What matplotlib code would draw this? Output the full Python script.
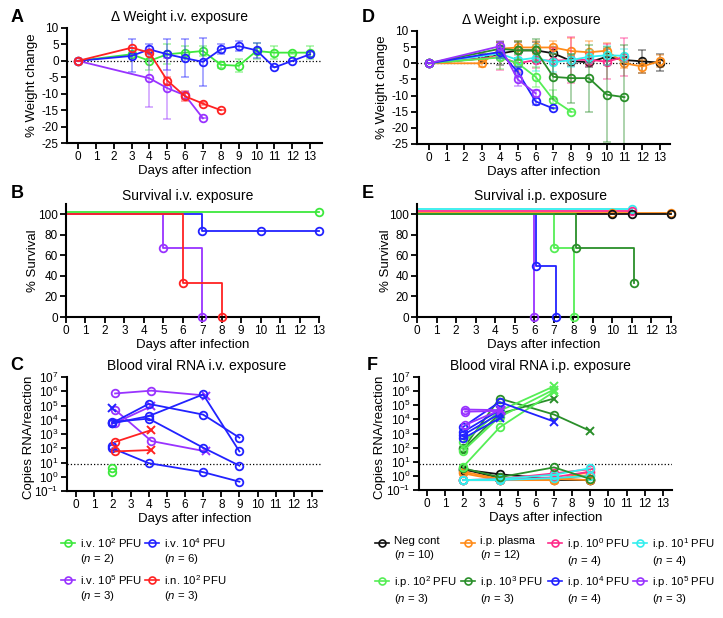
import numpy as np
import matplotlib
matplotlib.use("Agg")
import matplotlib.pyplot as plt
from matplotlib.lines import Line2D
from matplotlib.ticker import LogLocator, FixedLocator

plt.rcParams["font.family"] = ["Liberation Sans", "DejaVu Sans"]
plt.rcParams["mathtext.fontset"] = "custom"
plt.rcParams["mathtext.rm"] = "Liberation Sans"
plt.rcParams["mathtext.it"] = "Liberation Sans:italic"
plt.rcParams["axes.unicode_minus"] = False

# ---------------- colours ----------------
C_GREEN = "#3de83d"
C_BLUE = "#2222ff"
C_PURPLE = "#9933ff"
C_RED = "#ff2222"
C_BLACK = "#111111"
C_ORANGE = "#ff8c1a"
C_PINK = "#ff2a8a"
C_CYAN = "#33eeee"
C_LGREEN = "#55ee55"
C_DGREEN = "#2a8f2a"

# ---------------- A: weight i.v. ----------------
iv_green_days = [0, 3, 4, 5, 6, 7, 8, 9, 10, 11, 12, 13]
iv_green_mean = [0, 2, 0, 2, 2.5, 3, -1.2, -1.5, 3, 2.5, 2.5, 2.5]
iv_green_err = [0, 0.5, 2.8, 3, 2, 1.5, 1, 2, 2.5, 2, 0.3, 2]

iv_blue_days = [0, 3, 4, 5, 6, 7, 8, 9, 10, 11, 12, 13]
iv_blue_mean = [0, 1.5, 3.5, 2, 0.8, -0.3, 3.5, 4.5, 3.2, -2, 0, 2]
iv_blue_err = [0, 5, 1.5, 4.7, 5.8, 7.4, 1.5, 1.5, 2.3, 0, 0, 0.7]

iv_purple_days = [0, 4, 5, 6, 7]
iv_purple_mean = [0, -5.3, -8.3, -10.5, -17.5]
iv_purple_err = [0, 8.8, 9.3, 1, 0]

in_red_days = [0, 3, 4, 5, 6, 7, 8]
in_red_mean = [0, 4, 2.5, -6, -10.8, -13, -15]
in_red_err = [0, 0, 0.5, 1, 1.5, 0.5, 0]

# ---------------- D: weight i.p. ----------------
ip_black_days = [0, 3, 4, 5, 6, 7, 8, 9, 10, 11, 12, 13]
ip_black_mean = [0, 1.5, 3, 4, 4, 3.1, 0.7, 0.3, 2, 1, 0.6, 0.2]
ip_black_err = [0, 1.5, 3.5, 2.5, 2.5, 2, 1.5, 1.5, 2.5, 1, 3.5, 2.7]

ip_orange_days = [0, 3, 4, 5, 6, 7, 8, 9, 10, 11, 12, 13]
ip_orange_mean = [0, 0, 4.5, 4.9, 4.9, 4.9, 3.8, 3.4, 3.9, 0, -1, 0.7]
ip_orange_err = [0, 1, 2, 2, 2, 2, 4, 3.5, 2.5, 1.5, 2, 2]

ip_pink_days = [0, 4, 5, 6, 7, 8, 9, 10, 11]
ip_pink_mean = [0, 2, 0, 1, 0.8, 1, 1.1, 0.5, 2]
ip_pink_err = [0, 4, 2.5, 2.5, 4, 7, 2, 5.5, 5.8]

ip_cyan_days = [0, 4, 5, 6, 7, 8, 9, 10, 11]
ip_cyan_mean = [0, 3, 1, 1.7, 0.3, 1, 2, 2.5, 2.3]
ip_cyan_err = [0, 2, 2, 4, 3, 2, 2, 3, 2]

ip_lgreen_days = [0, 4, 5, 6, 7, 8]
ip_lgreen_mean = [0, 1.8, 0, -4.2, -11.3, -15]
ip_lgreen_err = [0, 3.5, 3, 3, 3, 0]

ip_dgreen_days = [0, 4, 5, 6, 7, 8, 9, 10, 11]
ip_dgreen_mean = [0, 4.5, 4, 4, -4.2, -4.6, -4.6, -9.7, -10.5]
ip_dgreen_err = [0, 2, 3, 3.5, 7, 7.6, 10.4, 14.8, 16.3]

ip_blue_days = [0, 4, 5, 6, 7]
ip_blue_mean = [0, 3.5, -2.7, -11.8, -14]
ip_blue_err = [0, 2, 1.5, 1, 0]

ip_purple_days = [0, 4, 5, 6]
ip_purple_mean = [0, 5.3, -5, -9.3]
ip_purple_err = [0, 1.5, 2, 1]

# ---------------- B / E: survival (step times, % alive, marker days) ----------------
surv_iv = [
    (C_GREEN, [0, 13], [100, 100], [13]),
    (C_BLUE, [0, 7, 13], [100, 83.3, 83.3], [7, 10, 13]),
    (C_PURPLE, [0, 5, 7], [100, 66.7, 0], [5, 7]),
    (C_RED, [0, 6, 8], [100, 33.3, 0], [6, 8]),
]
surv_ip = [
    (C_CYAN, [0, 11], [100, 100], [11]),
    (C_PINK, [0, 11], [100, 100], [11]),
    (C_ORANGE, [0, 13], [100, 100], [10, 13]),
    (C_BLACK, [0, 13], [100, 100], [10, 11, 13]),
    (C_PURPLE, [0, 6], [100, 0], [6]),
    (C_BLUE, [0, 6, 7], [100, 50, 0], [6, 7]),
    (C_LGREEN, [0, 7, 8], [100, 66.7, 0], [7, 8]),
    (C_DGREEN, [0, 8, 11], [100, 66.7, 33.3], [8, 11]),
]
# display offsets (x, y) used to separate overlapping curves
surv_ip_offsets = [(0, 5), (0, 3), (0, 1.5), (0, 0), (0, 0), (0.1, 0), (0.03, 0), (0.12, 0)]
surv_iv_offsets = [(0, 2), (0, 0), (0, 0), (0, 0)]

# ---------------- C: blood RNA i.v. (colour, days, copies, last marker) ----------------
rna_iv = [
    (C_PURPLE, [2, 4, 7], [7e5, 1.1e6, 5e5], "x"),
    (C_PURPLE, [2, 4, 7], [5e4, 320, 60], "x"),
    (C_PURPLE, [2, 4], [6e3, 9e4], "x"),
    (C_BLUE, [2, 4, 7, 9], [6e3, 1.3e5, 2.3e4, 550], "o"),
    (C_BLUE, [2, 4, 7, 9], [5.5e3, 1.8e4, 6e5, 60], "o"),
    (C_BLUE, [2, 4, 7, 9], [7e3, 1.2e4, 110, 6], "o"),
    (C_BLUE, [2, 4, 7, 9], [100, 9, 2.1, 0.45], "o"),
    (C_BLUE, [2], [150], "o"),
    (C_BLUE, [2], [7e4], "x"),
    (C_RED, [2, 4], [280, 1.9e3], "x"),
    (C_RED, [2, 4], [60, 75], "x"),
    (C_GREEN, [2], [4], "o"),
    (C_GREEN, [2], [2.3], "o"),
]
rna_iv_shift = {C_PURPLE: 0.15, C_RED: 0.15, C_BLUE: 0.0, C_GREEN: 0.0}

# ---------------- F: blood RNA i.p. ----------------
rna_ip = [
    (C_BLACK, [2, 4, 7, 9], [2.8, 1.3, 0.6, 0.5], "o"),
    (C_BLACK, [2, 4, 7, 9], [0.5, 0.5, 0.5, 0.5], "o"),
    (C_BLACK, [2, 4], [3, 0.7], "x"),
    (C_ORANGE, [2, 4, 7, 9], [2, 0.6, 0.5, 1.2], "o"),
    (C_ORANGE, [2, 4, 7, 9], [0.5, 0.5, 0.5, 2], "o"),
    (C_ORANGE, [2, 4, 7, 9], [1.5, 0.5, 0.6, 0.5], "o"),
    (C_PINK, [2, 4, 7, 9], [0.5, 0.6, 1.5, 3], "o"),
    (C_PINK, [2, 4, 7, 9], [0.5, 0.5, 0.8, 2], "o"),
    (C_CYAN, [2, 4, 7, 9], [0.5, 0.6, 1.2, 3.5], "o"),
    (C_CYAN, [2, 4, 7, 9], [0.5, 0.5, 0.7, 1], "o"),
    (C_DGREEN, [2, 4, 7, 9], [3.5, 0.8, 4, 0.6], "o"),
    (C_DGREEN, [2, 4, 7, 9], [90, 3e5, 2.2e4, 1.5e3], "x"),
    (C_DGREEN, [2, 4, 7], [80, 2.5e4, 3e5], "x"),
    (C_LGREEN, [2, 4, 7], [4.5, 2.7e3, 9e5], "x"),
    (C_LGREEN, [2, 4, 7], [60, 1.5e4, 1.3e6], "x"),
    (C_LGREEN, [2, 4, 7], [250, 4e4, 2.2e6], "x"),
    (C_BLUE, [2, 4, 7], [3e3, 1.7e5, 7e3], "x"),
    (C_BLUE, [2, 4], [1.3e3, 4.5e4], "x"),
    (C_BLUE, [2, 4], [800, 2.5e4], "x"),
    (C_BLUE, [2, 4], [450, 1.2e4], "x"),
    (C_PURPLE, [2, 4], [5e4, 4.5e4], "x"),
    (C_PURPLE, [2, 4], [3.5e4, 4e4], "x"),
    (C_PURPLE, [2, 4], [4e3, 5e4], "x"),
]
rna_limit = 7.4

# ---------------- legends ----------------
legend_iv = [
    (C_GREEN, r"i.v. 10$^2$ PFU", 2),
    (C_BLUE, r"i.v. 10$^4$ PFU", 6),
    (C_PURPLE, r"i.v. 10$^5$ PFU", 3),
    (C_RED, r"i.n. 10$^2$ PFU", 3),
]
legend_ip = [
    (C_BLACK, "Neg cont", 10),
    (C_ORANGE, "i.p. plasma", 12),
    (C_PINK, r"i.p. 10$^0$ PFU", 4),
    (C_CYAN, r"i.p. 10$^1$ PFU", 4),
    (C_LGREEN, r"i.p. 10$^2$ PFU", 3),
    (C_DGREEN, r"i.p. 10$^3$ PFU", 3),
    (C_BLUE, r"i.p. 10$^4$ PFU", 4),
    (C_PURPLE, r"i.p. 10$^5$ PFU", 3),
]

W, H = 723, 618
fig = plt.figure(figsize=(W / 100, H / 100), dpi=100)


def add_ax(left, top, right, bottom):
    return fig.add_axes([left / W, 1 - bottom / H, (right - left) / W, (bottom - top) / H])


def style(ax):
    for s in ["top", "right"]:
        ax.spines[s].set_visible(False)
    for s in ["left", "bottom"]:
        ax.spines[s].set_linewidth(1.5)
    ax.tick_params(direction="out", length=4, width=1.3, labelsize=8.5, pad=2)


MS = 5.5
LW = 1.3
LABEL_FS = 9.5


def weight_series(ax, days, mean, err, color):
    ax.errorbar(days, mean, yerr=err, fmt="none", ecolor=color, alpha=0.45,
                elinewidth=1.2, capsize=3, capthick=1.2)
    ax.plot(days, mean, "-o", color=color, lw=LW, ms=MS, mfc="none", mew=1.3)


def weight_axes(ax, title, tx):
    style(ax)
    ax.axhline(0, ls=":", color="k", lw=0.9, zorder=0)
    ax.set_ylim(-25, 10)
    ax.set_yticks(range(-25, 11, 5))
    ax.set_xticks(range(0, 14))
    ax.set_ylabel("% Weight change", fontsize=LABEL_FS)
    ax.set_xlabel("Days after infection", fontsize=LABEL_FS, labelpad=1)
    ax.set_title(title, fontsize=10, x=tx, pad=5)


# A
axA = add_ax(67, 28, 322, 143)
weight_series(axA, iv_green_days, iv_green_mean, iv_green_err, C_GREEN)
weight_series(axA, iv_blue_days, iv_blue_mean, iv_blue_err, C_BLUE)
weight_series(axA, iv_purple_days, iv_purple_mean, iv_purple_err, C_PURPLE)
weight_series(axA, in_red_days, in_red_mean, in_red_err, C_RED)
axA.set_xlim(-0.62, 13.67)
weight_axes(axA, "Δ Weight i.v. exposure", 0.44)

# D
axD = add_ax(417, 31, 670, 144)
for d, m, e, c in [
    (ip_black_days, ip_black_mean, ip_black_err, C_BLACK),
    (ip_orange_days, ip_orange_mean, ip_orange_err, C_ORANGE),
    (ip_pink_days, ip_pink_mean, ip_pink_err, C_PINK),
    (ip_cyan_days, ip_cyan_mean, ip_cyan_err, C_CYAN),
    (ip_lgreen_days, ip_lgreen_mean, ip_lgreen_err, C_LGREEN),
    (ip_dgreen_days, ip_dgreen_mean, ip_dgreen_err, C_DGREEN),
    (ip_blue_days, ip_blue_mean, ip_blue_err, C_BLUE),
    (ip_purple_days, ip_purple_mean, ip_purple_err, C_PURPLE),
]:
    weight_series(axD, d, m, e, c)
axD.set_xlim(-0.67, 13.56)
weight_axes(axD, "Δ Weight i.p. exposure", 0.45)


def survival_axes(ax, curves, offsets, title, tx):
    style(ax)
    for (color, t, s, mk), (dx, dy) in zip(curves, offsets):
        t = np.array(t, float) + dx
        t[0] = 0
        s_ = np.array(s, float)
        s_plot = np.where(s_ >= 100, s_ + dy, s_)
        ax.step(t, s_plot, where="post", color=color, lw=LW, clip_on=False)
        mx = np.array(mk, float) + dx
        my = [s_plot[np.searchsorted(t, x, side="right") - 1] for x in mx]
        ax.plot(mx, my, "o", color=color, ms=MS, mfc="none", mew=1.3, clip_on=False, zorder=5)
    ax.set_xlim(0, 13)
    ax.set_ylim(0, 110)
    ax.set_yticks(range(0, 101, 20))
    ax.set_xticks(range(0, 14))
    ax.set_ylabel("% Survival", fontsize=LABEL_FS)
    ax.set_xlabel("Days after infection", fontsize=LABEL_FS, labelpad=1)
    ax.set_title(title, fontsize=10, x=tx, pad=3)


axB = add_ax(66, 204, 319, 317)
survival_axes(axB, surv_iv, surv_iv_offsets, "Survival i.v. exposure", 0.48)
axE = add_ax(417, 204, 671, 317)
survival_axes(axE, surv_ip, surv_ip_offsets, "Survival i.p. exposure", 0.485)


def rna_axes(ax, mice, shift, title, tx):
    style(ax)
    ax.axhline(rna_limit, ls=":", color="k", lw=0.9, zorder=0)
    for color, days, vals, last in mice:
        x = np.array(days, float) + shift.get(color, 0)
        ax.plot(x, vals, "-", color=color, lw=LW)
        ax.plot(x[:-1] if last == "x" else x, vals[:-1] if last == "x" else vals,
                "o", color=color, ms=MS, mfc="none", mew=1.3)
        if last == "x":
            ax.plot(x[-1:], vals[-1:], "x", color=color, ms=MS, mew=1.4)
    ax.set_yscale("log")
    ax.set_ylim(0.1, 1e7)
    ax.yaxis.set_major_locator(LogLocator(base=10, numticks=20))
    ax.yaxis.set_minor_locator(FixedLocator([]))
    ax.set_xticks(range(0, 14))
    ax.set_ylabel("Copies RNA/reaction", fontsize=LABEL_FS)
    ax.set_xlabel("Days after infection", fontsize=LABEL_FS, labelpad=1)
    ax.set_title(title, fontsize=10, x=tx, pad=5)


axC = add_ax(67, 377, 322, 491)
rna_axes(axC, rna_iv, rna_iv_shift, "Blood viral RNA i.v. exposure", 0.51)
axC.set_xlim(-0.5, 13.55)
axF = add_ax(419, 377, 672, 490)
rna_axes(axF, rna_ip, {C_PURPLE: 0.1, C_BLUE: 0.0}, "Blood viral RNA i.p. exposure", 0.48)
axF.set_xlim(-0.44, 13.5)

# y-label positions (right edge of rotated label, in axes fraction)
for ax, lx in [(axA, -0.114), (axB, -0.107), (axC, -0.13),
               (axD, -0.115), (axE, -0.1), (axF, -0.135)]:
    ax.yaxis.set_label_coords(lx, 0.5)
axC.yaxis.set_label_coords(-0.125, 0.47)
axF.yaxis.set_label_coords(-0.13, 0.47)

# panel letters
for letter, x, y in [("A", 17, 17), ("B", 17, 193), ("C", 17, 366),
                     ("D", 368, 17), ("E", 368, 193), ("F", 372, 366)]:
    fig.text(x / W, 1 - y / H, letter, fontsize=13, fontweight="bold", va="center", ha="center")


def legend_entry(x_px, y_px, color, label, n):
    fig.add_artist(Line2D([(x_px - 7) / W, (x_px + 7) / W], [1 - y_px / H] * 2,
                          color=color, lw=1.2, transform=fig.transFigure))
    fig.add_artist(Line2D([x_px / W], [1 - y_px / H], marker="o", ms=5, mfc="none",
                          mec=color, mew=1.2, transform=fig.transFigure))
    fig.text((x_px + 12) / W, 1 - (y_px - 6.5) / H,
             label + "\n" + r"($\mathit{n}$ = " + str(n) + ")",
             fontsize=8.2, va="top", ha="left", linespacing=1.15)


iv_pos = [(68, 543), (152, 543), (68, 580), (152, 580)]
for (c, lab, n), (x, y) in zip(legend_iv, iv_pos):
    legend_entry(x, y, c, lab, n)

ip_cols = [382, 468, 555, 640]
for i, (c, lab, n) in enumerate(legend_ip):
    legend_entry(ip_cols[i % 4], 543 if i < 4 else 581, c, lab, n)

fig.savefig("out.png", dpi=100)
